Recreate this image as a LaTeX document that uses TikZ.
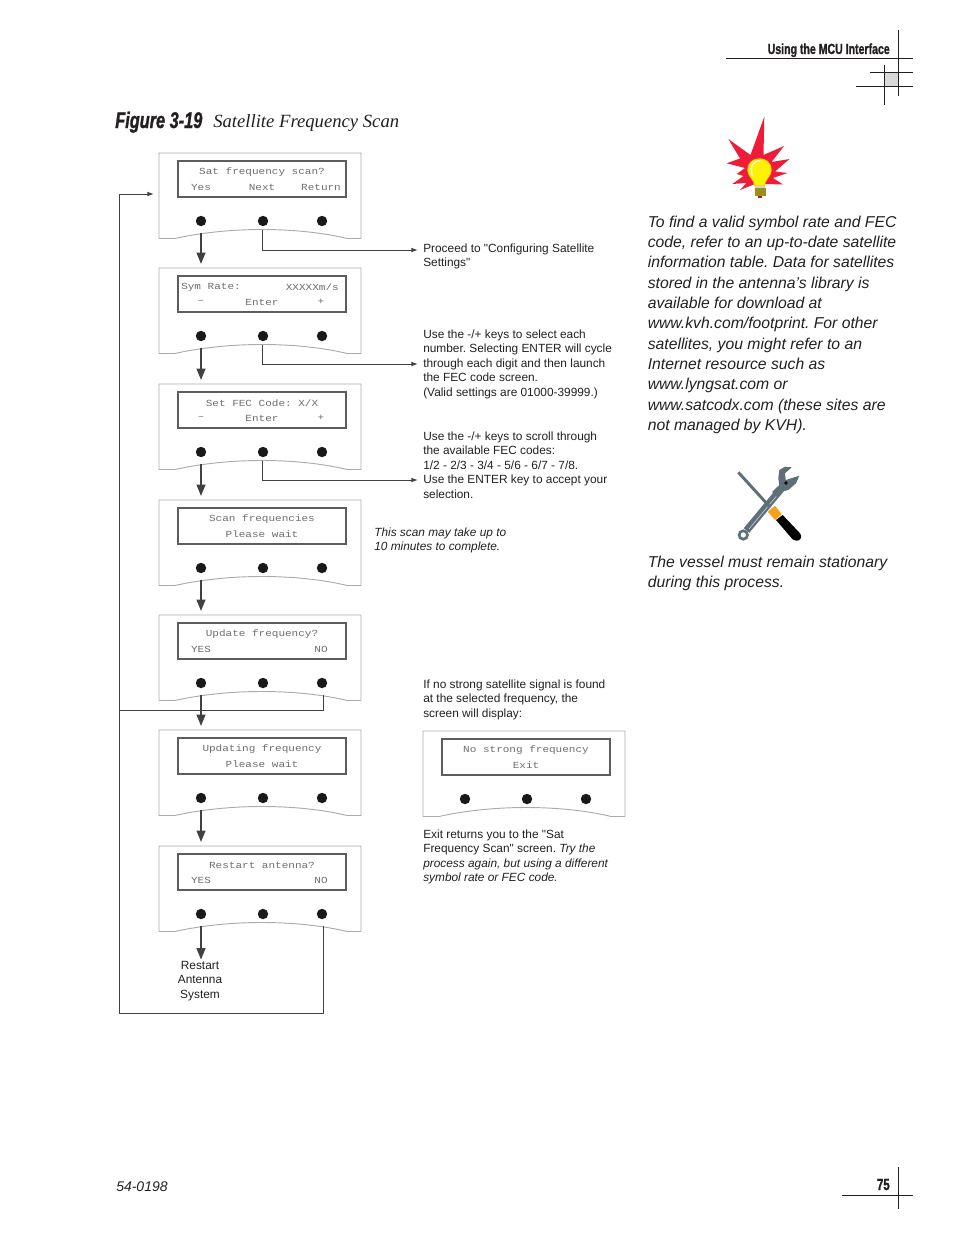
\documentclass[tikz,border=0pt]{standalone}
\usepackage{fontspec}
\setmainfont{Liberation Sans}
\newfontfamily\plainfont{Liberation Sans}
\newfontfamily\lcdfont[FakeStretch=1.18]{Liberation Mono}
\newfontfamily\capfont{Liberation Serif}
\newfontfamily\headfont[FakeStretch=0.72,FakeBold=1.2]{Liberation Sans}
\usetikzlibrary{arrows.meta,positioning,calc}
\definecolor{pageInk}{HTML}{231F20}
\definecolor{panelEdge}{HTML}{A9ABAE}
\definecolor{lcdInk}{HTML}{6D6E71}
\definecolor{flowInk}{HTML}{414042}
\definecolor{burstRed}{HTML}{EE1C39}
\definecolor{bulbYellow}{HTML}{FFF200}
\definecolor{toolSteel}{HTML}{5E6F78}
\definecolor{toolOrange}{HTML}{F7A11A}

\newcommand{\lcdpanel}[5]{%
  \begin{scope}[shift={(#2,#3)}]
  \draw[paneledge] (0,0) -- (202,0) -- (202,85.5) -- (188,85.5) .. controls (170,81) and (140,76.5) .. (103,76.5) .. controls (66,76.5) and (36,81) .. (16,85.5) -- (0,85.5) -- cycle;
  \node[lcdscreen] (#1) at (103,26) {};
  \node[knob] (#1a) at (42,68) {};
  \node[knob] (#1b) at (104,68) {};
  \node[knob] (#1c) at (163,68) {};
  \coordinate (#1A) at (42,79.5);
  \coordinate (#1B) at (103,76.5);
  \coordinate (#1C) at (164,79.5);
  \node[lcdtext] (#1top) at (103,19) {#4};
  \node[lcdtext] (#1low) at (103,34) {#5};
  \end{scope}
}
\newcommand{\lcdrow}[5]{%
  \node[lcdtext] (#1x) at ($(#2,#3)+(42,34)$) {#4};
  \node[lcdtext] (#1z) at ($(#2,#3)+(162,34)$) {#5};
}
\newcommand{\dq}{{\plainfont\symbol{34}}}

\begin{document}
\frenchspacing
\begin{tikzpicture}[
  x=0.75pt,y=-0.75pt,
  font=\fontsize{8.9}{10.9}\selectfont,
  paneledge/.style={draw=panelEdge,line width=0.7pt,fill=white},
  lcdscreen/.style={draw=flowInk!85,line width=1.5pt,fill=white,minimum width=126pt,minimum height=27pt,inner sep=0pt},
  knob/.style={circle,fill=black!90,minimum size=7.8pt,inner sep=0pt},
  lcdtext/.style={font=\lcdfont\fontsize{7}{8}\selectfont,text=lcdInk,inner sep=0pt},
  flow/.style={-{Triangle[length=8.5pt,width=6.5pt]},line width=1.5pt,draw=flowInk,shorten >=3pt},
  feed/.style={-{Latex[length=5pt,width=3.5pt]},line width=0.75pt,draw=flowInk},
  loopline/.style={line width=0.75pt,draw=flowInk},
  note/.style={anchor=north west,align=left,inner sep=0pt,text=pageInk},
  side/.style={anchor=north west,align=left,inner sep=0pt,text=pageInk,font=\fontsize{11.8}{15.25}\selectfont\itshape},
  rule/.style={line width=0.75pt,draw=pageInk}
]
\useasboundingbox (0,0) rectangle (954,1235);

\node[anchor=base east,inner sep=0pt,text=pageInk,font=\headfont\bfseries\fontsize{11}{12}\selectfont] (runhead) at (890,54) {Using the MCU Interface};
\fill[gray!30] (884,72) rectangle (898,86);
\draw[rule] (726,58) -- (913,58);
\draw[rule] (898,30) -- (898,96);
\draw[rule] (870,72) -- (913,72);
\draw[rule] (856,86) -- (913,86);
\draw[rule] (884,65) -- (884,105);

\node[anchor=base west,inner sep=0pt,text=pageInk,font=\headfont\bfseries\itshape\fontsize{17}{18}\selectfont] (figno) at (115,128) {Figure 3-19};
\node[anchor=base west,inner sep=0pt,text=pageInk,font=\capfont\itshape\fontsize{14}{16}\selectfont] (figtitle) at (213,127) {Satellite Frequency Scan};

\lcdpanel{sat}{159}{153}{Sat frequency scan?}{Next}
\lcdrow{sat}{159}{153}{Yes}{Return}
\lcdpanel{sym}{159}{268}{}{Enter}
\lcdrow{sym}{159}{268}{–}{+}
\node[lcdtext,anchor=west] (symname) at (181,287) {Sym Rate:};
\node[lcdtext,anchor=east] (symval) at (339,287) {XXXXXm/s};
\lcdpanel{fec}{159}{384}{Set FEC Code: X/X}{Enter}
\lcdrow{fec}{159}{384}{–}{+}
\lcdpanel{scan}{159}{500}{Scan frequencies}{Please wait}
\lcdpanel{upd}{159}{615}{Update frequency?}{}
\lcdrow{upd}{159}{615}{YES}{NO}
\lcdpanel{ing}{159}{730}{Updating frequency}{Please wait}
\lcdpanel{res}{159}{846}{Restart antenna?}{}
\lcdrow{res}{159}{846}{YES}{NO}
\lcdpanel{nos}{423}{731}{No strong frequency}{Exit}

\node[align=center,inner sep=0pt,text=pageInk] (sysname) at (200,981) {Restart\\Antenna\\System};

\draw[flow] (satA) -- (satA |- 0,268);
\draw[flow] (symA) -- (symA |- 0,384);
\draw[flow] (fecA) -- (fecA |- 0,500);
\draw[flow] (scanA) -- (scanA |- 0,615);
\draw[flow] (updA) -- (updA |- 0,730);
\draw[flow] (ingA) -- (ingA |- 0,846);
\draw[flow,shorten >=1pt] (resA) -- (sysname.north -| resA);

\node[note] (proceed) at (423,243.5) {Proceed to \dq Configuring Satellite\\Settings\dq};
\node[note] (symnote) at (423,329.5) {Use the -/+ keys to select each\\number. Selecting ENTER will cycle\\through each digit and then launch\\the FEC code screen.\\(Valid settings are 01000-39999.)};
\node[note] (fecnote) at (423,431.5) {Use the -/+ keys to scroll through\\the available FEC codes:\\1/2 - 2/3 - 3/4 - 5/6 - 6/7 - 7/8.\\Use the ENTER key to accept your\\selection.};
\node[note,font=\fontsize{8.9}{10.9}\selectfont\itshape] (scannote) at (374,527.5) {This scan may take up to\\10 minutes to complete.};
\node[note] (weaknote) at (423,679.5) {If no strong satellite signal is found\\at the selected frequency, the\\screen will display:};
\node[note] (exitnote) at (423,829.5) {Exit returns you to the \dq Sat\\Frequency Scan\dq{} screen. \textit{Try the}\\\textit{process again, but using a different}\\\textit{symbol rate or FEC code.}};

\coordinate (procin) at (418,250);
\coordinate (symin) at (418,364);
\coordinate (fecin) at (418,480);
\coordinate (loopbot) at (119,1013);
\coordinate (loopin) at (154,194);
\draw[feed] (satB) |- (procin);
\draw[feed] (symB) |- (symin);
\draw[feed] (fecB) |- (fecin);
\draw[loopline] (updC) |- (119,710);
\draw[loopline] (resC) |- (loopbot);
\draw[feed] (loopbot) |- (loopin);

\fill[burstRed] (764.3,116.7) -- (750.5,155) -- (728.3,139) -- (740,158.5) -- (726.7,163.3) -- (745,168) -- (736.7,174) -- (743.5,176) -- (732.3,184) -- (746.5,183) -- (740,190) -- (755,184) -- (766,184) -- (783,184.5) -- (773,178) -- (787.5,173) -- (775,171.5) -- (789.5,159) -- (771.5,162) -- (784,146) -- (763.5,155) -- cycle;
\filldraw[fill=bulbYellow,draw=toolOrange,line width=0.4pt] (754.5,186) .. controls (754,179) and (747.5,177) .. (747.5,170) .. controls (747.5,163) and (752.5,158.5) .. (759.5,158.5) .. controls (766.5,158.5) and (771.5,163) .. (771.5,170) .. controls (771.5,177) and (765,179) .. (764.5,186) -- cycle;
\draw[white,line width=0.9pt,line cap=round] (752.5,176) .. controls (749.5,167) and (752.5,161) .. (760,160.5);
\fill[gray!35] (754.5,186) rectangle (765,188.5);
\fill[olive!70!brown] (754.5,188) rectangle (765.5,196);
\fill[burstRed!80!black] (758,196) rectangle (762,198);

\node[side] (hintnote) at (647.5,215.5) {To find a valid symbol rate and FEC\\code, refer to an up-to-date satellite\\information table. Data for satellites\\stored in the antenna’s library is\\available for download at\\www.kvh.com/footprint. For other\\satellites, you might refer to an\\Internet resource such as\\www.lyngsat.com or\\www.satcodx.com (these sites are\\not managed by KVH).};

\draw[toolSteel,line width=2pt] (743.3,535) circle (4.2);
\draw[toolSteel,line width=5.4pt] (746.5,530.5) -- (781,489);
\draw[white!75!toolSteel,line width=0.4pt] (749,529) -- (779,493);
\fill[toolSteel] (779.3,470) -- (785,466.7) -- (791.7,467.3) -- (785,473.3) -- (785.7,480) -- (799.3,475.7) -- (796,483.3) -- (788.3,490) -- (781.7,491.7) -- (776.7,496.7) -- (772,492) -- (779.3,485) -- (778.3,478.3) -- cycle;
\fill[black] (786,483) circle (1.8);
\draw[toolSteel,line width=2.2pt] (738.3,472.3) -- (769,506);
\fill[black] (776,520) -- (782.7,515) -- (800,533.3) .. controls (803,537) and (800,541) .. (796.7,540.7) .. controls (794,540.5) and (792.5,539.5) .. (791.7,538.3) -- cycle;
\fill[toolOrange] (767.7,511.7) -- (775,505.7) -- (781.7,514.3) -- (775,520) -- cycle;

\node[side] (vesselnote) at (647.5,555.5) {The vessel must remain stationary\\during this process.};

\node[anchor=base west,inner sep=0pt,text=pageInk,font=\fontsize{10.5}{12}\selectfont\itshape] (docno) at (116,1191) {54-0198};
\node[anchor=base east,inner sep=0pt,text=pageInk,font=\headfont\bfseries\fontsize{12}{14}\selectfont] (pageno) at (890,1190) {75};
\draw[rule] (898,1167) -- (898,1209);
\draw[rule] (842,1195) -- (913,1195);
\end{tikzpicture}
\end{document}
